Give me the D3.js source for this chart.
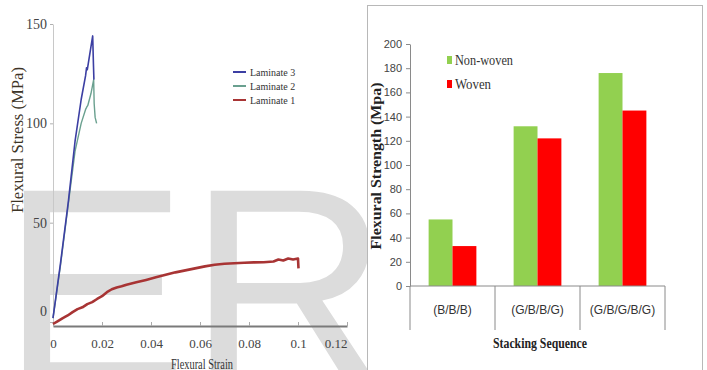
<!DOCTYPE html>
<html>
<head>
<meta charset="utf-8">
<script src="https://cdn.jsdelivr.net/npm/d3@7"></script>
<style>
  html, body { margin: 0; padding: 0; background: #fff; }
  svg { display: block; }
</style>
</head>
<body>
<svg id="fig" width="707" height="370"></svg>
<script>
// ---- Left panel: stress-strain curves ----
const strainTicks = [0, 0.02, 0.04, 0.06, 0.08, 0.1, 0.12];
const strainTickLabels = ["0", "0.02", "0.04", "0.06", "0.08", "0.1", "0.12"];
const stressTicks = [0, 50, 100, 150];

const laminate1Strain = [0, 0.002, 0.004, 0.006, 0.008, 0.010, 0.012, 0.014, 0.016, 0.018, 0.020, 0.022, 0.024, 0.026, 0.028, 0.030, 0.034, 0.038, 0.042, 0.046, 0.050, 0.054, 0.058, 0.062, 0.066, 0.070, 0.074, 0.078, 0.082, 0.086, 0.090, 0.092, 0.094, 0.096, 0.098, 0.100, 0.1002];
const laminate1Stress = [-1, 0.5, 2, 3.3, 5, 6.5, 7.4, 9, 10, 11.6, 13, 15, 16.5, 17.4, 18, 18.8, 20, 21.2, 22.5, 23.8, 25, 26, 27, 28, 28.8, 29.3, 29.6, 29.8, 30, 30.1, 30.5, 31.5, 31, 32, 31.5, 32, 27];

const laminate2Strain = [0, 0.003, 0.006, 0.009, 0.0115, 0.0133, 0.0137, 0.0142, 0.0155, 0.0166, 0.0168, 0.0172, 0.0178];
const laminate2Stress = [2, 28, 57, 86, 100, 107, 108, 109, 115, 122, 110, 103, 100];

const laminate3Strain = [0, 0.003, 0.0063, 0.009, 0.0115, 0.0133, 0.0137, 0.0140, 0.0162, 0.0165, 0.0167];
const laminate3Stress = [2, 29, 61, 91, 112, 124, 128, 127, 144, 130, 122];

const curveNames = ["Laminate 3", "Laminate 2", "Laminate 1"];
const curveColors = ["#3c3fa3", "#6aa08f", "#a83434"];

// ---- Right panel: flexural strength bars ----
const sequences = ["(B/B/B)", "(G/B/B/G)", "(G/B/G/B/G)"];
const fabricTypes = ["Non-woven", "Woven"];
const nonWovenStrength = [55, 132, 176];
const wovenStrength = [33, 122, 145];
const strengthTicks = [0, 20, 40, 60, 80, 100, 120, 140, 160, 180, 200];
const fabricColors = ["#92d050", "#ff0000"];

const svg = d3.select("#fig");
const serif = "'Liberation Serif', 'Times New Roman', serif";
const sans = "'Liberation Sans', Arial, sans-serif";

// Background watermark lettering
svg.append("text")
  .attr("x", 1).attr("y", 383.5)
  .attr("font-family", sans)
  .attr("font-size", 280)
  .attr("fill", "#dcdcdc")
  .text("ER");

// ================= Left chart =================
const xL = d3.scaleLinear().domain([0, 0.12]).range([53, 347]);
const yL = d3.scaleLinear().domain([-2, 150]).range([326, 24]);

const left = svg.append("g");

// y axis
const yAxisL = left.append("g")
  .attr("transform", `translate(${xL(0)},0)`)
  .call(d3.axisLeft(yL).tickValues(stressTicks).tickSizeInner(3).tickSizeOuter(0).tickPadding(3));
yAxisL.select(".domain").attr("stroke", "#c8c8c8");
yAxisL.selectAll(".tick line").attr("stroke", "#b0b0b0");
yAxisL.selectAll(".tick text")
  .attr("font-family", serif).attr("font-size", 14).attr("fill", "#444")
  .attr("dy", d => d === 0 ? "-0.45em" : "0.32em");

// x axis
const xAxisL = left.append("g")
  .attr("transform", `translate(0,${yL(-2)})`)
  .call(d3.axisBottom(xL).tickValues(strainTicks)
    .tickFormat((d, i) => strainTickLabels[i])
    .tickSizeInner(-4).tickSizeOuter(0).tickPadding(13));
xAxisL.select(".domain").attr("stroke", "#7a7a7a").attr("stroke-width", 2);
xAxisL.selectAll(".tick line").attr("stroke", "#aaa");
xAxisL.selectAll(".tick text")
  .attr("font-family", serif).attr("font-size", 13).attr("fill", "#444")
  .attr("text-anchor", (d, i) => i === strainTicks.length - 1 ? "end" : "middle");

// curves
const lineL = d3.line().x(d => xL(d[0])).y(d => yL(d[1]));
const curves = [
  d3.zip(laminate3Strain, laminate3Stress),
  d3.zip(laminate2Strain, laminate2Stress),
  d3.zip(laminate1Strain, laminate1Stress)
];
const widths = [1.6, 1.4, 2.6];
// draw Laminate 1 first so the steep curves sit above it
[2, 1, 0].forEach(i => {
  left.append("path")
    .datum(curves[i])
    .attr("d", lineL)
    .attr("fill", "none")
    .attr("stroke", curveColors[i])
    .attr("stroke-width", widths[i])
    .attr("stroke-linejoin", "round");
});

// legend
const legL = left.append("g");
curveNames.forEach((name, i) => {
  const y = 72 + i * 14;
  legL.append("line")
    .attr("x1", 233).attr("x2", 246).attr("y1", y).attr("y2", y)
    .attr("stroke", curveColors[i]).attr("stroke-width", 2);
  legL.append("text")
    .attr("x", 250).attr("y", y).attr("dy", "0.35em")
    .attr("font-family", serif).attr("font-size", 10).attr("fill", "#333")
    .text(name);
});

// axis titles
left.append("text")
  .attr("transform", "translate(23,140) rotate(-90)")
  .attr("text-anchor", "middle")
  .attr("font-family", serif).attr("font-size", 16).attr("fill", "#3d3426")
  .attr("textLength", 146).attr("lengthAdjust", "spacingAndGlyphs")
  .text("Flexural Stress (MPa)");
left.append("text")
  .attr("x", 202).attr("y", 369)
  .attr("text-anchor", "middle")
  .attr("font-family", serif).attr("font-size", 14).attr("fill", "#333")
  .attr("textLength", 62).attr("lengthAdjust", "spacingAndGlyphs")
  .text("Flexural Strain");

// ================= Right chart =================
const right = svg.append("g");
right.append("rect")
  .attr("x", 367.5).attr("y", 5.5).attr("width", 335).attr("height", 370)
  .attr("fill", "#fff").attr("stroke", "#b8b8b8");

const x0 = d3.scaleBand().domain(sequences).range([410, 665]).padding(0);
const x1 = d3.scaleBand().domain(fabricTypes).range([0, x0.bandwidth()])
  .paddingInner(0).paddingOuter(0.78);
const yR = d3.scaleLinear().domain([0, 200]).range([286, 44]);

// bars
const groups = right.append("g").selectAll("g")
  .data(sequences)
  .join("g")
  .attr("transform", d => `translate(${x0(d)},0)`);
groups.selectAll("rect")
  .data((d, i) => [
    { key: fabricTypes[0], value: nonWovenStrength[i] },
    { key: fabricTypes[1], value: wovenStrength[i] }
  ])
  .join("rect")
  .attr("x", d => x1(d.key))
  .attr("width", x1.bandwidth())
  .attr("y", d => yR(d.value))
  .attr("height", d => yR(0) - yR(d.value))
  .attr("fill", (d, i) => fabricColors[i]);

// y axis
const yAxisR = right.append("g")
  .attr("transform", "translate(410,0)")
  .call(d3.axisLeft(yR).tickValues(strengthTicks).tickSizeInner(4).tickSizeOuter(0).tickPadding(4));
yAxisR.select(".domain").attr("stroke", "#8a8a8a");
yAxisR.selectAll(".tick line").attr("stroke", "#8a8a8a");
yAxisR.selectAll(".tick text")
  .attr("font-family", sans).attr("font-size", 11).attr("fill", "#444");

// x axis baseline and category dividers
right.append("line")
  .attr("x1", 410).attr("x2", 665).attr("y1", yR(0)).attr("y2", yR(0))
  .attr("stroke", "#8a8a8a");
const edges = sequences.map(s => x0(s)).concat([x0.range()[1]]);
right.selectAll("line.div")
  .data(edges)
  .join("line")
  .attr("class", "div")
  .attr("x1", d => d).attr("x2", d => d)
  .attr("y1", yR(0)).attr("y2", 330)
  .attr("stroke", "#8a8a8a");
right.selectAll("text.cat")
  .data(sequences)
  .join("text")
  .attr("class", "cat")
  .attr("x", d => x0(d) + x0.bandwidth() / 2)
  .attr("y", 310).attr("dy", "0.35em")
  .attr("text-anchor", "middle")
  .attr("font-family", sans).attr("font-size", 12).attr("fill", "#333")
  .text(d => d);

// legend
fabricTypes.forEach((name, i) => {
  const cy = 60 + i * 24;
  right.append("rect")
    .attr("x", 447).attr("y", cy - 4).attr("width", 5).attr("height", 8)
    .attr("fill", fabricColors[i]);
  right.append("text")
    .attr("x", 455).attr("y", cy).attr("dy", "0.35em")
    .attr("font-family", serif).attr("font-size", 14).attr("fill", "#333")
    .attr("textLength", i === 0 ? 58 : 36).attr("lengthAdjust", "spacingAndGlyphs")
    .text(name);
});

// axis titles
right.append("text")
  .attr("transform", "translate(376,166) rotate(-90)")
  .attr("text-anchor", "middle").attr("dy", "0.35em")
  .attr("font-family", serif).attr("font-size", 14).attr("font-weight", "bold").attr("fill", "#222")
  .attr("textLength", 167).attr("lengthAdjust", "spacingAndGlyphs")
  .text("Flexural Strength (Mpa)");
right.append("text")
  .attr("x", 540).attr("y", 343).attr("dy", "0.35em")
  .attr("text-anchor", "middle")
  .attr("font-family", serif).attr("font-size", 14).attr("font-weight", "bold").attr("fill", "#222")
  .attr("textLength", 94).attr("lengthAdjust", "spacingAndGlyphs")
  .text("Stacking Sequence");
</script>
</body>
</html>
